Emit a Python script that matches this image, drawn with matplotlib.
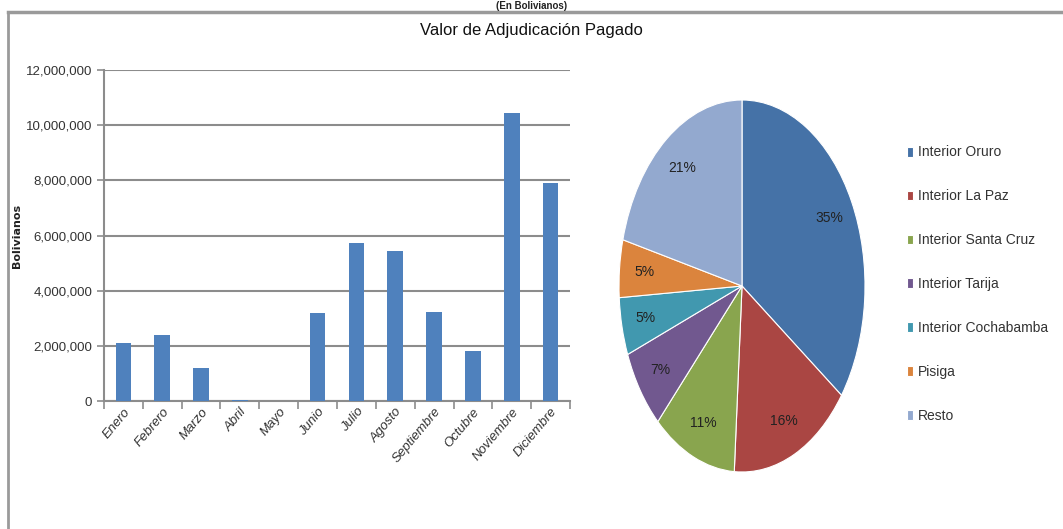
import matplotlib
matplotlib.use("Agg")
import matplotlib.pyplot as plt
from matplotlib.lines import Line2D
from matplotlib.ticker import FuncFormatter, FixedLocator
import numpy as np

FONT = ['Liberation Sans', 'DejaVu Sans']
plt.rcParams['font.family'] = FONT

months = ['Enero', 'Febrero', 'Marzo', 'Abril', 'Mayo', 'Junio', 'Julio',
          'Agosto', 'Septiembre', 'Octubre', 'Noviembre', 'Diciembre']
paid = [2100000, 2380000, 1200000, 30000, 0, 3190000, 5720000,
        5430000, 3220000, 1810000, 10430000, 7900000]

regions = ['Interior Oruro', 'Interior La Paz', 'Interior Santa Cruz',
           'Interior Tarija', 'Interior Cochabamba', 'Pisiga', 'Resto']
shares = [35, 16, 11, 7, 5, 5, 21]
pie_colors = ['#4572A7', '#AA4643', '#89A54E', '#71588F', '#4198AF', '#DB843D', '#93A9CF']

W, H = 1063, 529
fig = plt.figure(figsize=(W / 100, H / 100), dpi=100)

# frame lines (top and left border of the embedded chart)
fig.add_artist(Line2D([8 / W, 1], [1 - 12 / H, 1 - 12 / H], color='#9a9a9a', lw=2.5,
                      transform=fig.transFigure))
fig.add_artist(Line2D([8 / W, 8 / W], [0, 1 - 12 / H], color='#9a9a9a', lw=2.0,
                      transform=fig.transFigure))
# heading above the frame
fig.text(0.5, 1 - 1 / H, '(En Bolivianos)', ha='center', va='top', fontsize=7,
         fontweight='bold', color='#222222')

fig.text(0.5, 1 - 30 / H, 'Valor de Adjudicación Pagado', ha='center', va='center',
         fontsize=12, color='#111111')

# bar chart
ax = fig.add_axes([104 / W, 1 - 401 / H, 466 / W, 331 / H])
x = np.arange(len(months))
ax.bar(x, paid, width=0.4, color='#4F81BD', zorder=3)
ax.set_xlim(-0.5, len(months) - 0.5)
ax.set_ylim(0, 12000000)
ax.set_yticks(np.arange(0, 12000001, 2000000))
ax.yaxis.set_major_formatter(FuncFormatter(lambda v, p: f'{int(v):,}'))
ax.grid(axis='y', color='#8c8c8c', lw=1.5, zorder=0)
for s in ['top', 'right']:
    ax.spines[s].set_visible(False)
for s in ['left', 'bottom']:
    ax.spines[s].set_color('#8c8c8c')
    ax.spines[s].set_linewidth(1.5)
ax.tick_params(axis='y', colors='#8c8c8c', labelcolor='#333333', labelsize=9.5,
               length=5, width=1.2)
ax.xaxis.set_major_locator(FixedLocator(np.arange(-0.5, len(months), 1.0)))
ax.xaxis.set_minor_locator(FixedLocator(x))
ax.tick_params(axis='x', which='major', colors='#8c8c8c', length=6, width=1.2,
               labelbottom=False)
ax.tick_params(axis='x', which='minor', length=0, labelsize=9.5, labelcolor='#333333')
ax.set_xticks(x, minor=True)
ax.set_xticklabels(months, minor=True, rotation=50, ha='right', rotation_mode='anchor',
                   style='italic')
ax.set_ylabel('Bolivianos', fontsize=8, fontweight='bold', color='#222222',
              family=['DejaVu Sans'])
ax.yaxis.set_label_coords((22 - 104) / 466, 0.5)

# pie chart
pax = fig.add_axes([619 / W, 1 - 472 / H, 246 / W, 372 / H])
wedges, texts, autotexts = pax.pie(shares, colors=pie_colors, startangle=90,
                                   counterclock=False, autopct='%1.0f%%',
                                   pctdistance=0.8,
                                   wedgeprops=dict(edgecolor='white', linewidth=0.8),
                                   textprops=dict(fontsize=10, color='#222222'))
pax.set_aspect('auto')
pax.set_xlim(-1, 1)
pax.set_ylim(-1, 1)

leg = fig.legend(wedges, regions, loc='upper left',
                 bbox_to_anchor=(894 / W, 1 - 133 / H), frameon=False,
                 fontsize=10, handlelength=0.45, handleheight=0.7,
                 handletextpad=0.4, labelspacing=2.15)
for t in leg.get_texts():
    t.set_color('#333333')

fig.savefig('out.png', dpi=100)
